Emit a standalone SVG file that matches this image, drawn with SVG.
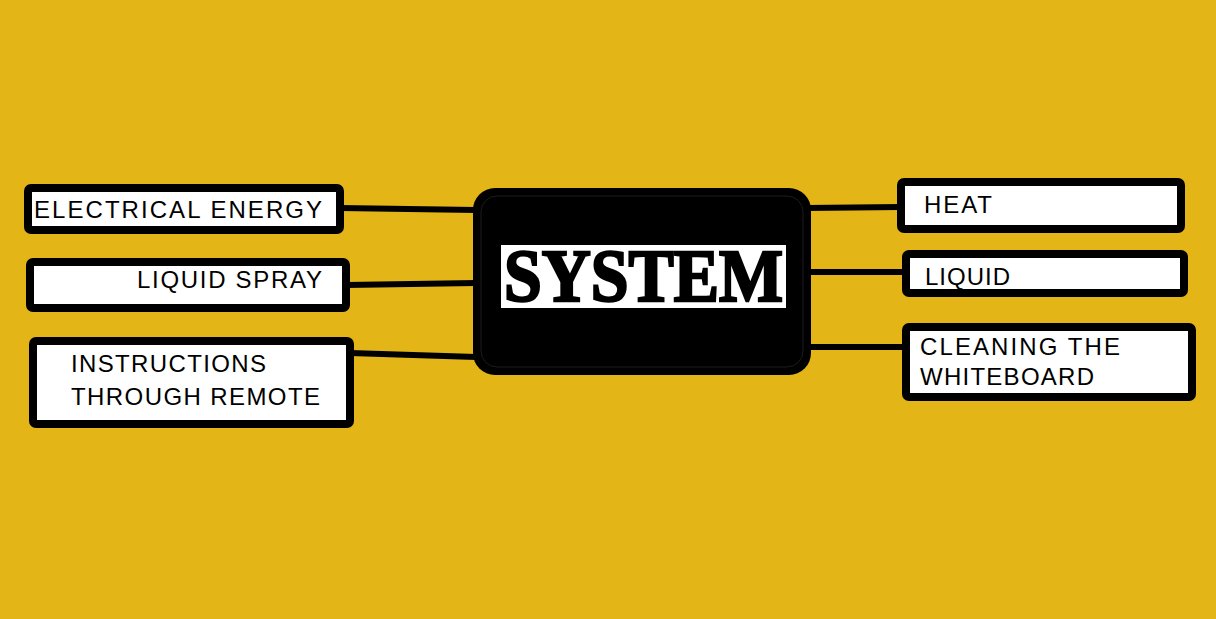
<svg xmlns="http://www.w3.org/2000/svg" width="1216" height="619" viewBox="0 0 1216 619">
<style>
.box{fill:#fff;stroke:#000;stroke-width:8;stroke-linejoin:round}
.lbl{font-family:"Liberation Sans",Arial,sans-serif;font-size:24px;fill:#000;letter-spacing:2px}
.con{stroke:#000;stroke-width:6;fill:none;stroke-linecap:butt}
</style>
<rect width="1216" height="619" fill="#E4B517"/>
<g id="connectors">
<path class="con" d="M340,208 L476,210"/>
<path class="con" d="M346,285 L476,283"/>
<path class="con" d="M350,353 L476,357"/>
<path class="con" d="M806,208 L901,207"/>
<path class="con" d="M806,272 L906,272"/>
<path class="con" d="M806,347 L906,347"/>
</g>
<g id="system">
<rect x="473" y="188" width="338" height="187" rx="22" fill="#000"/>
<rect x="481" y="196" width="322" height="171" rx="16" fill="none" stroke="#1c1c1c" stroke-width="1"/>
<rect x="501" y="245" width="285" height="63" fill="#fff"/>
<text x="504" y="301" font-family="'Liberation Serif','DejaVu Serif',serif" font-weight="bold" font-size="74" textLength="279" lengthAdjust="spacingAndGlyphs" fill="#000" stroke="#000" stroke-width="2.5">SYSTEM</text>
</g>
<g id="electrical-energy">
<rect class="box" x="28" y="188" width="312" height="42" rx="3"/>
<text class="lbl" x="34" y="218" textLength="290">ELECTRICAL ENERGY</text>
</g>
<g id="liquid-spray">
<rect class="box" x="30" y="262" width="316" height="46" rx="3"/>
<text class="lbl" x="137" y="288" textLength="187">LIQUID SPRAY</text>
</g>
<g id="instructions">
<rect class="box" x="33" y="341" width="317" height="83" rx="3"/>
<text class="lbl" x="71" y="372" textLength="197">INSTRUCTIONS</text>
<text class="lbl" x="71" y="405" textLength="251">THROUGH REMOTE</text>
</g>
<g id="heat">
<rect class="box" x="901" y="182" width="280" height="47" rx="3"/>
<text class="lbl" x="924" y="213" textLength="70">HEAT</text>
</g>
<g id="liquid">
<rect class="box" x="906" y="254" width="278" height="39" rx="3"/>
<text class="lbl" x="925" y="285" textLength="87">LIQUID</text>
</g>
<g id="cleaning">
<rect class="box" x="906" y="327" width="286" height="70" rx="3"/>
<text class="lbl" x="920" y="355" textLength="202">CLEANING THE</text>
<text class="lbl" x="920" y="385" textLength="176">WHITEBOARD</text>
</g>
</svg>
